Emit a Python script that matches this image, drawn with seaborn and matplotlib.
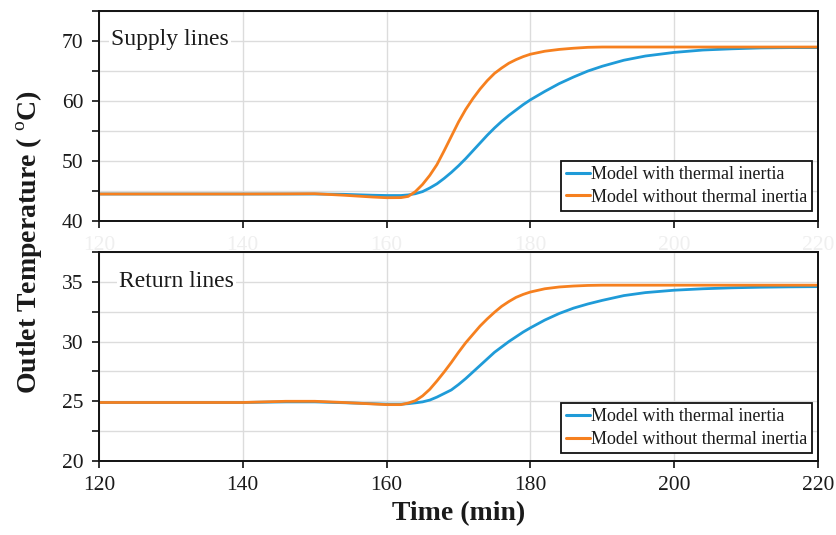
import numpy as np
import pandas as pd
import matplotlib
matplotlib.use("Agg")
import matplotlib.pyplot as plt
from matplotlib.ticker import MultipleLocator
import seaborn as sns

# ---- data -------------------------------------------------------------
minutes = [120, 130, 140, 146, 150, 154, 158, 160, 162, 163, 164, 165, 166,
           167, 168, 169, 170, 171, 172, 173, 174, 175, 176, 177, 178, 179,
           180, 182, 184, 186, 188, 190, 193, 196, 200, 204, 208, 212, 216, 220]

supply_with_inertia = [44.5, 44.5, 44.5, 44.5, 44.5, 44.45, 44.3, 44.25, 44.25,
                       44.35, 44.55, 44.9, 45.5, 46.2, 47.1, 48.1, 49.2, 50.4,
                       51.7, 53.0, 54.3, 55.5, 56.6, 57.6, 58.5, 59.4, 60.2,
                       61.6, 62.9, 64.0, 65.0, 65.8, 66.8, 67.5, 68.1, 68.5,
                       68.7, 68.85, 68.9, 68.9]

supply_without_inertia = [44.5, 44.5, 44.5, 44.52, 44.55, 44.3, 44.0, 43.88,
                          43.9, 44.1, 44.9, 46.1, 47.6, 49.4, 51.7, 54.1, 56.5,
                          58.6, 60.4, 62.0, 63.4, 64.6, 65.5, 66.3, 66.9, 67.4,
                          67.8, 68.3, 68.6, 68.8, 68.95, 69.0, 69.0, 69.0, 69.0,
                          69.0, 69.0, 69.0, 69.0, 69.0]

return_with_inertia = [24.9, 24.9, 24.9, 24.95, 24.95, 24.88, 24.8, 24.76,
                       24.76, 24.8, 24.87, 24.95, 25.1, 25.35, 25.65, 25.95,
                       26.4, 26.9, 27.45, 28.0, 28.55, 29.1, 29.55, 30.0, 30.4,
                       30.8, 31.15, 31.8, 32.35, 32.8, 33.15, 33.45, 33.85,
                       34.1, 34.3, 34.42, 34.5, 34.55, 34.58, 34.6]

return_without_inertia = [24.9, 24.9, 24.9, 25.0, 25.0, 24.9, 24.78, 24.72,
                          24.72, 24.85, 25.05, 25.45, 26.0, 26.7, 27.45, 28.25,
                          29.1, 29.9, 30.6, 31.3, 31.9, 32.45, 32.95, 33.35,
                          33.7, 33.95, 34.15, 34.42, 34.57, 34.65, 34.7, 34.72,
                          34.72, 34.72, 34.72, 34.72, 34.72, 34.72, 34.72, 34.72]

model_labels = ["Model with thermal inertia", "Model without thermal inertia"]
panel_titles = ["Supply lines", "Return lines"]
x_ticks = [120, 140, 160, 180, 200, 220]
supply_yticks = [40, 50, 60, 70]
return_yticks = [20, 25, 30, 35]

# ---- style -------------------------------------------------------------
sns.set_theme(style="white")
plt.rcParams["font.family"] = ["Liberation Serif", "DejaVu Serif"]
plt.rcParams["mathtext.fontset"] = "custom"
plt.rcParams["mathtext.rm"] = "Liberation Serif"
plt.rcParams["mathtext.bf"] = "Liberation Serif:bold"

palette = {model_labels[0]: "#1f9bd8", model_labels[1]: "#f6801f"}
text_color = "#1a1a1a"
grid_color = "#dcdcdc"


def long_frame(with_vals, without_vals):
    return pd.DataFrame({
        "Time": minutes * 2,
        "Temperature": list(with_vals) + list(without_vals),
        "Model": [model_labels[0]] * len(minutes) + [model_labels[1]] * len(minutes),
    })


fig = plt.figure(figsize=(8.36, 5.35), dpi=100)
fig.patch.set_facecolor("white")
ax_top = fig.add_axes([0.1184, 0.5869, 0.8601, 0.3925])
ax_bot = fig.add_axes([0.1184, 0.1383, 0.8601, 0.3907])

panels = [
    (ax_top, long_frame(supply_with_inertia, supply_without_inertia),
     (40, 75), supply_yticks, 5, panel_titles[0], (0.017, 0.862), 0.0476),
    (ax_bot, long_frame(return_with_inertia, return_without_inertia),
     (20, 37.5), return_yticks, 2.5, panel_titles[1], (0.028, 0.858), 0.037),
]

for ax, df, ylim, yticks, yminor, title, tpos, leg_y in panels:
    ax.set_facecolor("white")
    sns.lineplot(data=df, x="Time", y="Temperature", hue="Model",
                 hue_order=model_labels, palette=palette, ax=ax,
                 linewidth=2.0, estimator=None, sort=False, legend=True)
    ax.set_xlim(120, 220)
    ax.set_ylim(*ylim)
    ax.set_xticks(x_ticks)
    ax.set_yticks(yticks)
    ax.yaxis.set_minor_locator(MultipleLocator(yminor))
    ax.grid(True, which="both", axis="y", color=grid_color, linewidth=1.0, zorder=0)
    ax.grid(True, which="major", axis="x", color=grid_color, linewidth=1.0, zorder=0)
    ax.set_axisbelow(True)
    for sp in ax.spines.values():
        sp.set_color("#111111")
        sp.set_linewidth(1.4)
    ax.tick_params(axis="both", which="both", direction="out", length=5,
                   width=1.2, color="#111111", labelsize=15.5,
                   labelcolor=text_color, pad=6)
    ax.tick_params(axis="y", which="both", left=True)
    ax.tick_params(axis="x", which="both", bottom=True)
    ax.set_xlabel("")
    ax.set_ylabel("")
    ax.text(tpos[0], tpos[1], title, transform=ax.transAxes, fontsize=17,
            color=text_color, ha="left", va="center",
            bbox=dict(facecolor="white", edgecolor="none", pad=1.5))

    old = ax.get_legend()
    handles = old.legend_handles
    labels = [t.get_text() for t in old.get_texts()]
    old.remove()
    leg = ax.legend(handles, labels, loc="lower right",
                    bbox_to_anchor=(0.992, leg_y), borderaxespad=0,
                    fontsize=13, frameon=True, fancybox=False, framealpha=1,
                    edgecolor="#111111", handlelength=1.3, handletextpad=0.05,
                    borderpad=0.3, labelspacing=0.3)
    leg.get_frame().set_linewidth(1.3)
    for h in leg.legend_handles:
        h.set_linewidth(2.2)
    for t in leg.get_texts():
        t.set_color(text_color)

# faint x tick labels under the upper panel
for lab in ax_top.get_xticklabels():
    lab.set_color("#efefef")

ax_bot.set_xlabel("Time (min)", fontsize=20, fontweight="bold",
                  color=text_color, labelpad=4)
fig.text(0.036, 0.548, r"Outlet Temperature ( $^{\mathrm{o}}$C)", rotation=90,
         fontsize=20, fontweight="bold", color=text_color,
         ha="center", va="center")

fig.savefig("out.png", dpi=100, facecolor="white")
